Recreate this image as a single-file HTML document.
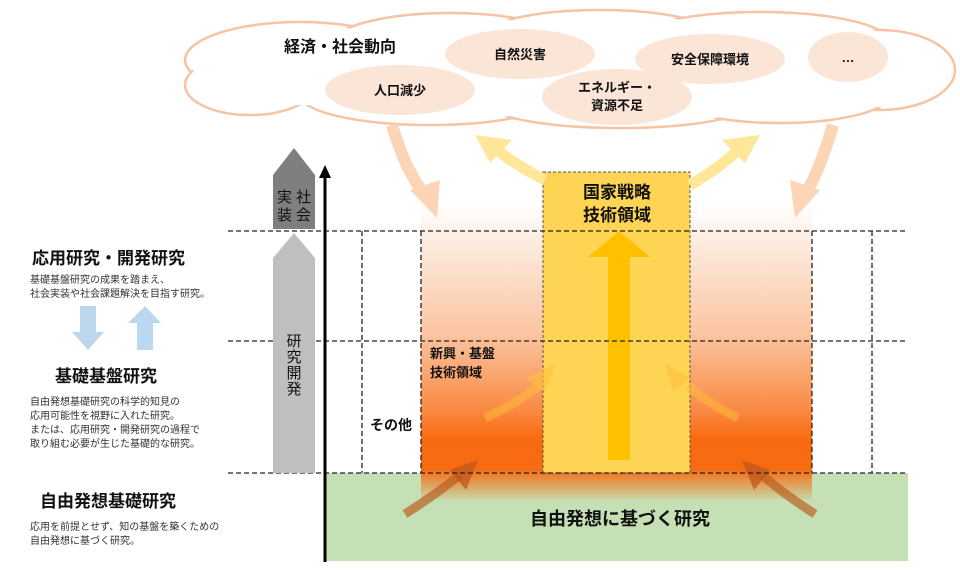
<!DOCTYPE html>
<html><head><meta charset="utf-8"><style>
html,body{margin:0;padding:0;background:#fff}
svg{display:block}
text{font-family:"Liberation Sans","Noto Sans CJK JP",sans-serif}
.b{font-weight:bold}
</style></head><body>
<svg width="960" height="578" viewBox="0 0 960 578" xmlns="http://www.w3.org/2000/svg">
<defs>
<linearGradient id="og" x1="0" y1="0" x2="0" y2="1">
<stop offset="0" stop-color="#ffffff" stop-opacity="0"/>
<stop offset="0.12" stop-color="#fdf0e7"/>
<stop offset="0.45" stop-color="#fbc6a2"/>
<stop offset="0.7" stop-color="#f98b45"/>
<stop offset="0.8" stop-color="#f86a10"/>
<stop offset="0.9" stop-color="#f66b12"/>
<stop offset="1" stop-color="#c8d8a8"/>
</linearGradient>
</defs>
<g fill="#fff" stroke="#f6c4a4" stroke-width="2.5">
<ellipse cx="300" cy="60" rx="115" ry="38"/>
<ellipse cx="450" cy="45" rx="120" ry="32"/>
<ellipse cx="600" cy="38" rx="120" ry="28"/>
<ellipse cx="760" cy="42" rx="130" ry="30"/>
<ellipse cx="880" cy="70" rx="75" ry="40"/>
<ellipse cx="250" cy="85" rx="65" ry="30"/>
<ellipse cx="430" cy="95" rx="130" ry="30"/>
<ellipse cx="620" cy="100" rx="140" ry="28"/>
<ellipse cx="780" cy="95" rx="110" ry="28"/>
</g>
<g fill="#fff">
<ellipse cx="300" cy="60" rx="112" ry="35"/>
<ellipse cx="450" cy="45" rx="117" ry="29"/>
<ellipse cx="600" cy="38" rx="117" ry="25"/>
<ellipse cx="760" cy="42" rx="127" ry="27"/>
<ellipse cx="880" cy="70" rx="72" ry="37"/>
<ellipse cx="250" cy="85" rx="62" ry="27"/>
<ellipse cx="430" cy="95" rx="127" ry="27"/>
<ellipse cx="620" cy="100" rx="137" ry="25"/>
<ellipse cx="780" cy="95" rx="107" ry="25"/>
<rect x="240" y="45" width="640" height="60"/>
</g>
<g fill="#fbe5d6">
<ellipse cx="520" cy="54" rx="75" ry="25"/>
<ellipse cx="710" cy="59" rx="75" ry="25"/>
<ellipse cx="848" cy="57" rx="40" ry="25"/>
<ellipse cx="400" cy="90" rx="75" ry="25"/>
<ellipse cx="617" cy="97" rx="75" ry="28"/>
</g>
<g class="b" font-size="13" text-anchor="middle" fill="#111">
<text x="340" y="52" font-size="16">経済・社会動向</text>
<text x="520" y="59">自然災害</text>
<text x="710" y="64">安全保障環境</text>
<text x="848" y="62">…</text>
<text x="400" y="95">人口減少</text>
<text x="617" y="92">エネルギー・</text>
<text x="617" y="110">資源不足</text>
</g>
<rect x="325" y="473" width="583" height="88" fill="#c5e0b4"/>
<rect x="421" y="195" width="391" height="305" fill="url(#og)"/>
<g fill="none" stroke="#fbd5b5" stroke-width="12">
<path d="M392 125 Q405 170 425 195"/>
<path d="M833 125 Q820 170 805 195"/>
</g>
<polygon points="410,190 440,180 437,218" fill="#fbd5b5"/>
<polygon points="820,190 790,180 795,218" fill="#fbd5b5"/>
<rect x="543" y="172" width="147" height="301" fill="#fdd454" stroke="#555" stroke-width="1" stroke-dasharray="3,2"/>
<g fill="none" stroke="#ffe699" stroke-width="11">
<path d="M545 180 Q515 165 495 148"/>
<path d="M690 185 Q720 168 740 148"/>
</g>
<polygon points="475,135 512,140 490,163" fill="#ffe699"/>
<polygon points="760,135 722,140 745,163" fill="#ffe699"/>
<rect x="608" y="256" width="22" height="204" fill="#ffc000"/>
<polygon points="619,231 650,257 588,257" fill="#ffc000"/>
<g fill="none" stroke="#ffc03a" stroke-opacity="0.5" stroke-width="9">
<path d="M485 418 Q520 402 540 385"/>
<path d="M738 418 Q705 402 688 385"/>
</g>
<polygon points="555,364 545,392 525,378" fill="#ffc03a" fill-opacity="0.6"/>
<polygon points="665,364 690,378 673,392" fill="#ffc03a" fill-opacity="0.6"/>
<g fill="none" stroke="#b8581a" stroke-opacity="0.65" stroke-width="9">
<path d="M405 514 Q435 495 460 475"/>
<path d="M815 514 Q785 495 762 475"/>
</g>
<polygon points="478,460 466,490 450,470" fill="#c0561a" fill-opacity="0.75"/>
<polygon points="742,460 770,470 754,490" fill="#c0561a" fill-opacity="0.75"/>
<g stroke="#222" stroke-width="1.3" stroke-dasharray="5,3" fill="none">
<line x1="228" y1="231" x2="905" y2="231"/>
<line x1="228" y1="341" x2="905" y2="341"/>
<line x1="228" y1="473" x2="905" y2="473"/>
<line x1="362" y1="231" x2="362" y2="473"/>
<line x1="421" y1="231" x2="421" y2="473"/>
<line x1="812" y1="231" x2="812" y2="473"/>
<line x1="872" y1="231" x2="872" y2="473"/>
</g>
<polygon points="273,229 273,175 294,148 315,175 315,229" fill="#7f7f7f"/>
<polygon points="273,473 273,258 294,233 315,258 315,473" fill="#bfbfbf"/>
<g font-size="15" fill="#111">
<text x="277" y="202">実</text><text x="296" y="202">社</text>
<text x="277" y="220">装</text><text x="296" y="220">会</text>
<text x="294" y="346" text-anchor="middle">研</text>
<text x="294" y="362" text-anchor="middle">究</text>
<text x="294" y="378" text-anchor="middle">開</text>
<text x="294" y="394" text-anchor="middle">発</text>
</g>
<line x1="325" y1="562" x2="325" y2="176" stroke="#000" stroke-width="3"/>
<polygon points="325,165 331,178 319,178" fill="#000"/>
<g class="b" fill="#111">
<text x="617" y="198" text-anchor="middle" font-size="17">国家戦略</text>
<text x="617" y="221" text-anchor="middle" font-size="17">技術領域</text>
<text x="430" y="358" font-size="13">新興・基盤</text>
<text x="430" y="377" font-size="13">技術領域</text>
<text x="370" y="430" font-size="14">その他</text>
<text x="620" y="525" text-anchor="middle" font-size="18">自由発想に基づく研究</text>
<text x="32" y="264" font-size="17">応用研究・開発研究</text>
<text x="55" y="382" font-size="17">基礎基盤研究</text>
<text x="40" y="507" font-size="17">自由発想基礎研究</text>
</g>
<g font-size="10" fill="#333">
<text x="30" y="283">基礎基盤研究の成果を踏まえ、</text>
<text x="30" y="297">社会実装や社会課題解決を目指す研究。</text>
<text x="30" y="405">自由発想基礎研究の科学的知見の</text>
<text x="30" y="419">応用可能性を視野に入れた研究。</text>
<text x="30" y="433">または、応用研究・開発研究の過程で</text>
<text x="30" y="447">取り組む必要が生じた基礎的な研究。</text>
<text x="30" y="530">応用を前提とせず、知の基盤を築くための</text>
<text x="30" y="544">自由発想に基づく研究。</text>
</g>
<polygon points="80,306 96,306 96,332 104,332 88,350 72,332 80,332" fill="#bdd7ee"/>
<polygon points="137,350 153,350 153,323 161,323 145,306 128,323 137,323" fill="#bdd7ee"/>
</svg>
</body></html>
